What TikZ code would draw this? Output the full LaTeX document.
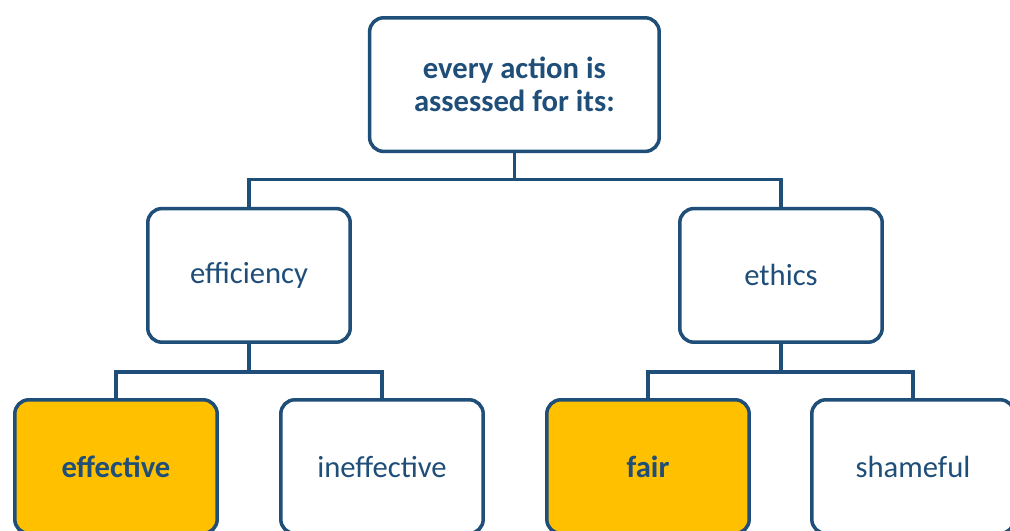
\documentclass[tikz,border=0pt]{standalone}
\usepackage{fontspec}
\setmainfont{Carlito}
\definecolor{navy}{RGB}{31,78,121}
\definecolor{gold}{RGB}{255,192,0}
\tikzset{
  box/.style={draw=navy, line width=2.5pt, rounded corners=0.35cm, fill=white,
    minimum width=5.06cm, minimum height=3.34cm, text=navy, align=center,
    font=\fontsize{21.8}{23.5}\selectfont},
  pick/.style={box, fill=gold, font=\fontsize{21.8}{23.5}\selectfont\bfseries},
  link/.style={draw=navy, line width=2.5pt}
}
\begin{document}
\begin{tikzpicture}
    \useasboundingbox (0,0) rectangle (25.25,13.275);
    \node[box, minimum width=7.24cm, font=\fontsize{21.8}{23.5}\selectfont\bfseries] (action) at (12.86,11.16) {every action is\\assessed for its:};
    \node[box] (efficiency) at (6.225,6.39) {efficiency};
    \node[box] (ethics) at (19.525,6.39) {ethics};
    \node[pick] (effective) at (2.9,1.61) {effective};
    \node[box] (ineffective) at (9.55,1.61) {ineffective};
    \node[pick] (fair) at (16.2,1.61) {fair};
    \node[box] (shameful) at (22.825,1.61) {shameful};
    % tree lines
    \draw[link] (action.south) -- ++(0,-0.66) coordinate (split);
    \draw[link] (efficiency.north) |- (split) -| (ethics.north);
    \draw[link] (efficiency.south) -- ++(0,-0.7) coordinate (splitL);
    \draw[link] (effective.north) |- (splitL) -| (ineffective.north);
    \draw[link] (ethics.south) -- ++(0,-0.7) coordinate (splitR);
    \draw[link] (fair.north) |- (splitR) -| (shameful.north);
\end{tikzpicture}
\end{document}
